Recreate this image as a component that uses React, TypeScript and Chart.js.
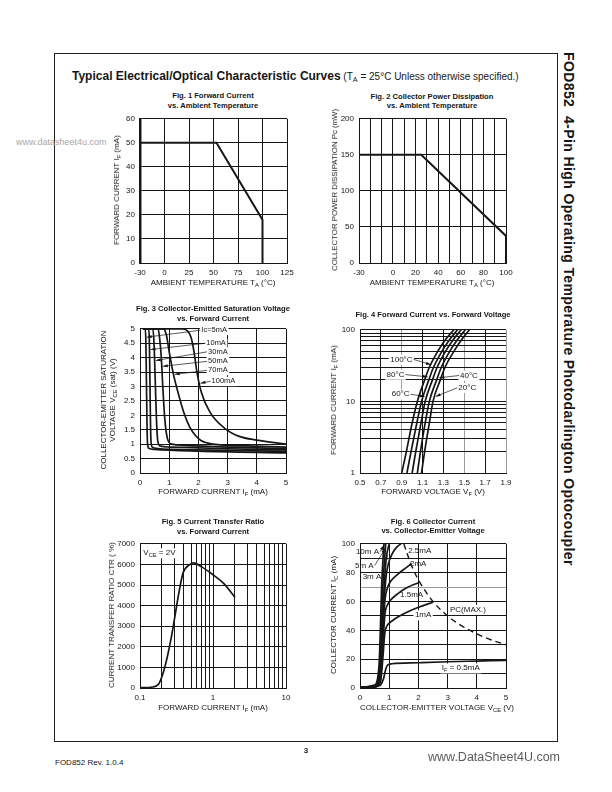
import React, { useEffect, useRef } from "react";
import { Chart, registerables } from "chart.js";

Chart.register(...registerables);

const FONT = '"Liberation Sans", Arial, Helvetica, sans-serif';
const INK = "#161616";
const GRAY = "#9c9c9c";

// ================= DATA =================
// Fig. 1  Forward current vs ambient temperature
const fig1Temp = [-30, 53, 100, 100];
const fig1Current = [50, 50, 18, 0];
const fig1XTicks = [-25, 0, 25, 50, 75, 100, 125];
const fig1XLabels = ["-30", "0", "25", "50", "75", "100", "125"];
const fig1YTicks = [0, 10, 20, 30, 40, 50, 60];

// Fig. 2  Collector power dissipation vs ambient temperature
const fig2Temp = [-30, 25, 100, 100];
const fig2Power = [150, 150, 37.5, 0];
const fig2XTicks = [-30, -20, -10, 0, 10, 20, 30, 40, 50, 60, 70, 80, 90, 100];
const fig2XLabeled = [-30, 0, 20, 40, 60, 80, 100];
const fig2YTicks = [0, 50, 100, 150, 200];

// Fig. 3  Collector-emitter saturation voltage vs forward current
const fig3Names = ["Ic=5mA", "10mA", "30mA", "50mA", "70mA", "100mA"];
const fig3IF5 = [0.1, 0.18, 0.2, 0.22, 0.24, 0.26, 0.3, 0.5, 2, 5];
const fig3V5 = [5, 5, 4.6, 3.2, 1.7, 1.0, 0.86, 0.82, 0.76, 0.7];
const fig3IF10 = [0.1, 0.3, 0.32, 0.34, 0.36, 0.38, 0.42, 0.6, 2, 5];
const fig3V10 = [5, 5, 4.6, 3.2, 1.7, 1.05, 0.9, 0.85, 0.8, 0.75];
const fig3IF30 = [0.1, 0.44, 0.48, 0.51, 0.54, 0.57, 0.61, 0.7, 1, 3, 5];
const fig3V30 = [5, 5, 4.5, 3.6, 2.6, 1.7, 1.1, 0.93, 0.9, 0.84, 0.8];
const fig3IF50 = [0.1, 0.62, 0.68, 0.73, 0.78, 0.84, 0.9, 0.97, 1.1, 1.5, 3, 5];
const fig3V50 = [5, 5, 4.6, 4, 3, 2, 1.4, 1.1, 1.0, 0.96, 0.9, 0.85];
const fig3IF70 = [0.1, 0.8, 0.9, 1.0, 1.15, 1.3, 1.5, 1.7, 1.9, 2.1, 2.5, 3, 4, 5];
const fig3V70 = [5, 5, 4.8, 4.2, 3.4, 2.8, 2.1, 1.6, 1.3, 1.12, 1.0, 0.96, 0.93, 0.9];
const fig3IF100 = [0.1, 1.45, 1.6, 1.75, 1.85, 1.95, 2.1, 2.4, 2.9, 3.4, 4, 5];
const fig3V100 = [5, 5, 4.95, 4.7, 4.2, 3.5, 2.8, 2.1, 1.55, 1.27, 1.14, 1.0];
const fig3XTicks = [0, 1, 2, 3, 4, 5];
const fig3YTicks = [0, 0.5, 1, 1.5, 2, 2.5, 3, 3.5, 4, 4.5, 5];

// Fig. 4  Forward current vs forward voltage
const fig4Current = [1, 2, 5, 10, 20, 30, 50, 70, 100];
const fig4V100C = [0.9, 0.945, 1.0, 1.05, 1.12, 1.165, 1.245, 1.31, 1.4];
const fig4V80C = [0.95, 0.99, 1.045, 1.09, 1.16, 1.205, 1.285, 1.35, 1.435];
const fig4V60C = [1.0, 1.035, 1.085, 1.125, 1.195, 1.24, 1.32, 1.385, 1.47];
const fig4V40C = [1.05, 1.08, 1.125, 1.165, 1.235, 1.28, 1.36, 1.425, 1.51];
const fig4V20C = [1.09, 1.12, 1.165, 1.2, 1.27, 1.315, 1.4, 1.465, 1.55];
const fig4XTicks = [0.5, 0.7, 0.9, 1.1, 1.3, 1.5, 1.7, 1.9];
const fig4GrayX = [0.9, 1.5, 1.9];
const fig4YTicks = [1, 2, 3, 4, 5, 6, 7, 8, 9, 10, 20, 30, 40, 50, 60, 70, 80, 90, 100];
const fig4YLabeled = [1, 10, 100];

// Fig. 5  Current transfer ratio vs forward current
const fig5IF = [0.1, 0.15, 0.18, 0.2, 0.22, 0.26, 0.3, 0.34, 0.39, 0.48, 0.54, 0.7, 1.0, 1.4, 2.0];
const fig5CTR = [20, 50, 200, 560, 1040, 2200, 3450, 4600, 5600, 5990, 6070, 5880, 5500, 5080, 4400];
const fig5XTicks = [0.1, 0.2, 0.3, 0.4, 0.5, 0.6, 0.7, 0.8, 0.9, 1, 2, 3, 4, 5, 6, 7, 8, 9, 10];
const fig5XLabeled = [0.1, 1, 10];
const fig5YTicks = [0, 1000, 2000, 3000, 4000, 5000, 6000, 7000];

// Fig. 6  Collector current vs collector-emitter voltage
const fig6V05 = [0, 0.5, 0.7, 0.8, 0.88, 0.95, 1.1, 2, 3, 4, 5];
const fig6I05 = [0.5, 0.8, 2, 6, 13, 16, 16.8, 17.5, 18.2, 18.7, 19.2];
const fig6V1 = [0, 0.5, 0.7, 0.78, 0.85, 0.92, 1.0, 1.2, 1.5, 2.0, 2.5];
const fig6I1 = [0.5, 0.8, 4, 20, 38, 43, 45, 48, 51.5, 56, 59.5];
const fig6V15 = [0, 0.5, 0.7, 0.78, 0.86, 0.95, 1.05, 1.3, 1.6, 2.0];
const fig6I15 = [0.5, 1, 6, 30, 52, 58, 61, 65.5, 69.5, 73];
const fig6V2 = [0, 0.5, 0.7, 0.78, 0.86, 0.95, 1.05, 1.3, 1.55, 1.75];
const fig6I2 = [0.5, 1, 8, 40, 62, 70, 74, 79, 83, 86];
const fig6V25 = [0, 0.5, 0.7, 0.8, 0.88, 0.97, 1.1, 1.25, 1.4];
const fig6I25 = [0.5, 1, 10, 50, 75, 86, 93, 97.5, 100];
const fig6V3 = [0, 0.5, 0.7, 0.8, 0.9, 1.0];
const fig6I3 = [0.5, 1, 12, 60, 90, 100];
const fig6V5 = [0, 0.5, 0.68, 0.78, 0.88];
const fig6I5 = [0.5, 1.5, 15, 70, 100];
const fig6V10 = [0, 0.5, 0.65, 0.75, 0.82];
const fig6I10 = [0.5, 2, 15, 75, 100];
const fig6PcV = [1.5, 1.75, 2, 2.5, 3, 3.5, 4, 4.5, 5];
const fig6PcI = [100, 85.7, 75, 60, 50, 42.9, 37.5, 33.3, 30];
const fig6XTicks = [0, 1, 2, 3, 4, 5];
const fig6YTicks = [0, 10, 20, 30, 40, 50, 60, 70, 80, 90, 100];
const fig6GrayY = [70];

// ================= HELPERS =================
const PADL = 34, PADT = 8, PADR = 14, PADB = 18;

type Part = { t: string; sub?: boolean };
type Ann = { parts: Part[]; x: number; y: number; to?: [number, number]; side?: "l" | "r"; bg?: boolean; size?: number };
const P = (t: string): Part[] => [{ t }];

const pts = (xs: number[], ys: number[]) => xs.map((x, i) => ({ x, y: ys[i] }));

function annotPlugin(items: Ann[]) {
  return {
    id: "annot",
    afterDatasetsDraw(chart: any) {
      const { ctx, scales } = chart;
      const xs = scales.x, ys = scales.y;
      ctx.save();
      const laid = items.map((a) => {
        const size = a.size ?? 8;
        const sub = size * 0.72;
        const widths = a.parts.map((p) => {
          ctx.font = `${p.sub ? sub : size}px ${FONT}`;
          return ctx.measureText(p.t).width;
        });
        const w = widths.reduce((s, v) => s + v, 0);
        return { a, size, sub, widths, w, px: xs.getPixelForValue(a.x), py: ys.getPixelForValue(a.y) };
      });
      for (const L of laid) {
        if (L.a.bg) {
          ctx.fillStyle = "#fff";
          ctx.fillRect(L.px - 1.5, L.py - L.size * 0.6, L.w + 3, L.size * 1.25);
        }
      }
      for (const L of laid) {
        if (!L.a.to) continue;
        const sx = L.a.side === "r" ? L.px + L.w + 1 : L.px - 1;
        const sy = L.py;
        const tx = xs.getPixelForValue(L.a.to[0]), ty = ys.getPixelForValue(L.a.to[1]);
        ctx.strokeStyle = INK;
        ctx.lineWidth = 0.7;
        ctx.beginPath();
        ctx.moveTo(sx, sy);
        ctx.lineTo(tx, ty);
        ctx.stroke();
        const ang = Math.atan2(ty - sy, tx - sx);
        const c = Math.cos(ang), s = Math.sin(ang);
        ctx.fillStyle = INK;
        ctx.beginPath();
        ctx.moveTo(tx, ty);
        ctx.lineTo(tx - 5 * c + 1.5 * s, ty - 5 * s - 1.5 * c);
        ctx.lineTo(tx - 5 * c - 1.5 * s, ty - 5 * s + 1.5 * c);
        ctx.closePath();
        ctx.fill();
      }
      for (const L of laid) {
        ctx.fillStyle = INK;
        ctx.textBaseline = "middle";
        ctx.textAlign = "left";
        let cx = L.px;
        L.a.parts.forEach((p, i) => {
          ctx.font = `${p.sub ? L.sub : L.size}px ${FONT}`;
          ctx.fillText(p.t, cx, p.sub ? L.py + L.size * 0.3 : L.py);
          cx += L.widths[i];
        });
      }
      ctx.restore();
    },
  };
}

function axis(o: {
  type?: string; min: number; max: number; ticks: number[];
  label: (v: number) => string; gray?: number[]; border?: number;
}) {
  const isGray = (v: number) => (o.gray || []).some((g) => Math.abs(g - v) < 1e-9);
  return {
    type: o.type ?? "linear",
    min: o.min,
    max: o.max,
    afterBuildTicks: (s: any) => {
      s.ticks = o.ticks.map((v) => ({ value: v }));
    },
    grid: {
      color: (c: any) => (c.tick && isGray(c.tick.value) ? GRAY : INK),
      lineWidth: 1,
      drawTicks: false,
    },
    border: { color: INK, width: o.border ?? 1 },
    ticks: {
      autoSkip: false,
      maxRotation: 0,
      minRotation: 0,
      padding: 5,
      color: INK,
      font: { family: FONT, size: 8 },
      callback: (v: any) => o.label(Number(v)),
    },
  };
}

const curve = (data: any[], extra: any = {}) => ({
  data,
  borderColor: INK,
  borderWidth: 1.7,
  pointRadius: 0,
  fill: false,
  cubicInterpolationMode: "monotone",
  ...extra,
});

function cfg(datasets: any[], x: any, y: any, items: Ann[] = []) {
  return {
    type: "line",
    data: { datasets },
    options: {
      animation: false,
      responsive: false,
      devicePixelRatio: 1,
      events: [],
      layout: { padding: { left: 0, top: PADT, right: PADR, bottom: 0 } },
      plugins: { legend: { display: false }, tooltip: { enabled: false }, title: { display: false } },
      scales: {
        x: { ...x, position: "bottom", afterFit: (s: any) => { s.height = PADB; } },
        y: { ...y, position: "left", afterFit: (s: any) => { s.width = PADL; } },
      },
    },
    plugins: [annotPlugin(items)],
  };
}

function Plot({ l, t, w, h, make }: { l: number; t: number; w: number; h: number; make: () => any }) {
  const ref = useRef<HTMLCanvasElement | null>(null);
  useEffect(() => {
    if (!ref.current) return;
    const chart = new Chart(ref.current, make());
    return () => chart.destroy();
  }, []);
  const W = w + PADL + PADR, H = h + PADT + PADB;
  return (
    <canvas
      ref={ref}
      width={W}
      height={H}
      style={{ position: "absolute", left: l - PADL, top: t - PADT, width: W, height: H }}
    />
  );
}

const Sub = ({ children }: { children: any }) => (
  <span style={{ fontSize: "0.72em", position: "relative", top: "0.3em" }}>{children}</span>
);

function Txt({ x, y, children, size = 8, bold = false, rot = 0, color = INK, anchor = "c" }: any) {
  const tx = anchor === "c" ? "-50%" : anchor === "l" ? "0%" : "-100%";
  return (
    <div
      style={{
        position: "absolute",
        left: x,
        top: y,
        transform: `translate(${tx}, -50%)${rot ? ` rotate(${rot}deg)` : ""}`,
        fontSize: size,
        fontWeight: bold ? 700 : 400,
        whiteSpace: "nowrap",
        lineHeight: 1,
        color,
      }}
    >
      {children}
    </div>
  );
}

// ================= CHART CONFIGS =================
const fig1 = () =>
  cfg(
    [curve(pts(fig1Temp, fig1Current), { borderWidth: 2, cubicInterpolationMode: "default", tension: 0 })],
    axis({ min: -25, max: 125, ticks: fig1XTicks, label: (v) => fig1XLabels[fig1XTicks.indexOf(v)] ?? "" }),
    axis({ min: 0, max: 60, ticks: fig1YTicks, label: (v) => String(v), border: 2.5 })
  );

const fig2 = () =>
  cfg(
    [curve(pts(fig2Temp, fig2Power), { borderWidth: 2, cubicInterpolationMode: "default", tension: 0 })],
    axis({ min: -30, max: 100, ticks: fig2XTicks, label: (v) => (fig2XLabeled.includes(v) ? String(v) : "") }),
    axis({ min: 0, max: 200, ticks: fig2YTicks, label: (v) => String(v) })
  );

const fig3Notes: Ann[] = [
  { parts: P(fig3Names[0]), x: 2.1, y: 4.95, to: [0.23, 4.71], bg: true, size: 7.5 },
  { parts: P(fig3Names[1]), x: 2.27, y: 4.5, to: [0.36, 4.28], bg: true, size: 7.5 },
  { parts: P(fig3Names[2]), x: 2.33, y: 4.2, to: [0.54, 3.9], bg: true, size: 7.5 },
  { parts: P(fig3Names[3]), x: 2.33, y: 3.87, to: [0.78, 3.7], bg: true, size: 7.5 },
  { parts: P(fig3Names[4]), x: 2.33, y: 3.56, to: [1.19, 3.42], bg: true, size: 7.5 },
  { parts: P(fig3Names[5]), x: 2.45, y: 3.18, to: [2.07, 3.11], bg: true, size: 7.5 },
];

const fig3 = () =>
  cfg(
    [
      curve(pts(fig3IF5, fig3V5)),
      curve(pts(fig3IF10, fig3V10)),
      curve(pts(fig3IF30, fig3V30)),
      curve(pts(fig3IF50, fig3V50)),
      curve(pts(fig3IF70, fig3V70)),
      curve(pts(fig3IF100, fig3V100)),
    ],
    axis({ min: 0, max: 5, ticks: fig3XTicks, label: (v) => String(v) }),
    axis({ min: 0, max: 5, ticks: fig3YTicks, label: (v) => String(v) }),
    fig3Notes
  );

const fig4Notes: Ann[] = [
  { parts: P("100°C"), x: 0.79, y: 38.6, to: [1.18, 32.6], side: "r", bg: true },
  { parts: P("80°C"), x: 0.755, y: 23.7, to: [1.15, 22], side: "r", bg: true },
  { parts: P("60°C"), x: 0.804, y: 12.6, to: [1.12, 11.7], side: "r", bg: true },
  { parts: P("40°C"), x: 1.459, y: 23, to: [1.26, 21.4], bg: true },
  { parts: P("20°C"), x: 1.443, y: 15.5, to: [1.225, 11.7], bg: true },
];

const fig4 = () =>
  cfg(
    [
      curve(pts(fig4V100C, fig4Current)),
      curve(pts(fig4V80C, fig4Current)),
      curve(pts(fig4V60C, fig4Current)),
      curve(pts(fig4V40C, fig4Current)),
      curve(pts(fig4V20C, fig4Current)),
    ],
    axis({ min: 0.5, max: 1.9, ticks: fig4XTicks, label: (v) => v.toFixed(1), gray: fig4GrayX }),
    axis({ type: "logarithmic", min: 1, max: 100, ticks: fig4YTicks, label: (v) => (fig4YLabeled.includes(v) ? String(v) : "") }),
    fig4Notes
  );

const fig5Notes: Ann[] = [
  { parts: [{ t: "V" }, { t: "CE", sub: true }, { t: " = 2V" }], x: 0.111, y: 6550, bg: true },
];

const fig5 = () =>
  cfg(
    [curve(pts(fig5IF, fig5CTR))],
    axis({ type: "logarithmic", min: 0.1, max: 10, ticks: fig5XTicks, label: (v) => (fig5XLabeled.includes(v) ? String(v) : "") }),
    axis({ min: 0, max: 7000, ticks: fig5YTicks, label: (v) => String(v) }),
    fig5Notes
  );

const fig6Notes: Ann[] = [
  { parts: P("10m A"), x: -0.14, y: 94.5, to: [0.82, 99], side: "r" },
  { parts: P("5m A"), x: -0.17, y: 85, to: [0.87, 97], side: "r" },
  { parts: P("3m A"), x: 0.09, y: 77, to: [0.93, 92.5], side: "r" },
  { parts: P("2.5mA"), x: 1.65, y: 95.2 },
  { parts: P("2mA"), x: 1.71, y: 86.3 },
  { parts: P("1.5mA"), x: 1.37, y: 64.4 },
  { parts: P("1mA"), x: 1.88, y: 50.5, bg: true },
  { parts: P("PC(MAX.)"), x: 3.08, y: 54.3, bg: true },
  { parts: [{ t: "I" }, { t: "F", sub: true }, { t: " = 0.5mA" }], x: 2.8, y: 13.7, bg: true },
];

const fig6 = () =>
  cfg(
    [
      curve(pts(fig6V05, fig6I05)),
      curve(pts(fig6V1, fig6I1)),
      curve(pts(fig6V15, fig6I15)),
      curve(pts(fig6V2, fig6I2)),
      curve(pts(fig6V25, fig6I25)),
      curve(pts(fig6V3, fig6I3)),
      curve(pts(fig6V5, fig6I5)),
      curve(pts(fig6V10, fig6I10)),
      curve(pts(fig6PcV, fig6PcI), { borderDash: [6, 4], borderWidth: 1.4 }),
    ],
    axis({ min: 0, max: 5, ticks: fig6XTicks, label: (v) => String(v) }),
    axis({ min: 0, max: 100, ticks: fig6YTicks, label: (v) => (v % 20 === 0 ? String(v) : ""), gray: fig6GrayY }),
    fig6Notes
  );

// ================= PAGE =================
export default function App() {
  return (
    <div
      style={{
        position: "absolute",
        left: 0,
        top: 0,
        width: 612,
        height: 792,
        background: "#fff",
        fontFamily: FONT,
        color: INK,
        overflow: "hidden",
      }}
    >
      <div style={{ position: "absolute", left: 54, top: 53, width: 502, height: 687, border: "1px solid #222" }} />

      <div style={{ position: "absolute", left: 72, top: 75, transform: "translateY(-50%)", whiteSpace: "nowrap", lineHeight: 1 }}>
        <span style={{ fontWeight: 700, fontSize: 12 }}>Typical Electrical/Optical Characteristic Curves</span>
        <span style={{ fontSize: 10 }}>
          {" "}(T<Sub>A</Sub> = 25°C Unless otherwise specified.)
        </span>
      </div>

      <div
        style={{
          position: "absolute",
          left: 562,
          top: 52,
          writingMode: "vertical-rl",
          fontWeight: 700,
          fontSize: 14,
          letterSpacing: 0.4,
          whiteSpace: "nowrap",
          lineHeight: 1,
        }}
      >
        FOD852&nbsp;&nbsp;4-Pin High Operating Temperature Photodarlington Optocoupler
      </div>

      <Txt x={16} y={142} anchor="l" color="#a8a8a8" size={9}>www.datasheet4u.com</Txt>

      {/* Fig 1 */}
      <Txt x={213} y={96} bold size={7.6}>Fig. 1 Forward Current</Txt>
      <Txt x={213} y={106} bold size={7.6}>vs. Ambient Temperature</Txt>
      <Plot l={140} t={117} w={147} h={146} make={fig1} />
      <Txt x={213} y={283}>AMBIENT TEMPERATURE T<Sub>A</Sub> (°C)</Txt>
      <Txt x={117} y={190} rot={-90}>FORWARD CURRENT I<Sub>F</Sub> (mA)</Txt>

      {/* Fig 2 */}
      <Txt x={432} y={97} bold size={7.6}>Fig. 2 Collector Power Dissipation</Txt>
      <Txt x={432} y={106} bold size={7.6}>vs. Ambient Temperature</Txt>
      <Plot l={359} t={117} w={147} h={146} make={fig2} />
      <Txt x={432} y={283}>AMBIENT TEMPERATURE T<Sub>A</Sub> (°C)</Txt>
      <Txt x={335} y={190} rot={-90} size={7.8}>COLLECTOR POWER DISSIPATION Pc (mW)</Txt>

      {/* Fig 3 */}
      <Txt x={213} y={309} bold size={7.6}>Fig. 3 Collector-Emitted Saturation Voltage</Txt>
      <Txt x={213} y={319} bold size={7.6}>vs. Forward Current</Txt>
      <Plot l={140} t={327} w={146} h={146} make={fig3} />
      <Txt x={213} y={492}>FORWARD CURRENT I<Sub>F</Sub> (mA)</Txt>
      <Txt x={104} y={400} rot={-90}>COLLECTOR-EMITTER SATURATION</Txt>
      <Txt x={113} y={400} rot={-90}>VOLTAGE V<Sub>CE</Sub> (sat) (V)</Txt>

      {/* Fig 4 */}
      <Txt x={433} y={315} bold size={7.6}>Fig. 4 Forward Current vs. Forward Voltage</Txt>
      <Plot l={360} t={328} w={146} h={145} make={fig4} />
      <Txt x={433} y={492}>FORWARD VOLTAGE V<Sub>F</Sub> (V)</Txt>
      <Txt x={334} y={400} rot={-90}>FORWARD CURRENT I<Sub>F</Sub> (mA)</Txt>

      {/* Fig 5 */}
      <Txt x={213} y={522} bold size={7.6}>Fig. 5 Current Transfer Ratio</Txt>
      <Txt x={213} y={532} bold size={7.6}>vs. Forward Current</Txt>
      <Plot l={140} t={542} w={146} h={146} make={fig5} />
      <Txt x={213} y={708}>FORWARD CURRENT I<Sub>F</Sub> (mA)</Txt>
      <Txt x={112} y={615} rot={-90}>CURRENT TRANSFER RATIO CTR ( %)</Txt>

      {/* Fig 6 */}
      <Txt x={433} y={522} bold size={7.6}>Fig. 6 Collector Current</Txt>
      <Txt x={433} y={531} bold size={7.6}>vs. Collector-Emitter Voltage</Txt>
      <Plot l={360} t={542} w={146} h={146} make={fig6} />
      <Txt x={437} y={708}>COLLECTOR-EMITTER VOLTAGE V<Sub>CE</Sub> (V)</Txt>
      <Txt x={334} y={615} rot={-90}>COLLECTOR CURRENT I<Sub>C</Sub> (mA)</Txt>

      {/* footer */}
      <Txt x={306} y={751} bold size={8}>3</Txt>
      <Txt x={55} y={763} anchor="l" size={8}>FOD852 Rev. 1.0.4</Txt>
      <Txt x={428} y={757} anchor="l" size={12.5} color="#5a5a5a">www.DataSheet4U.com</Txt>
    </div>
  );
}
